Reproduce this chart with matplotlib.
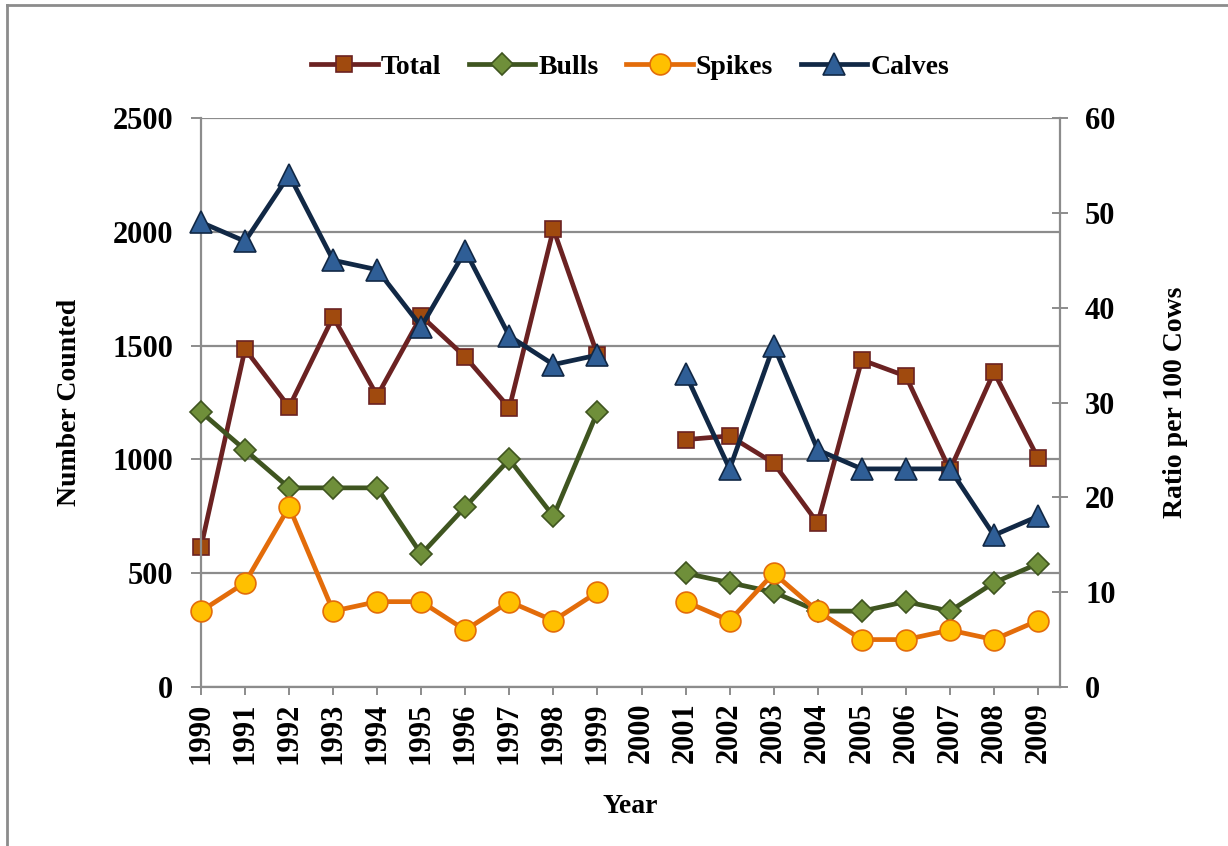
import numpy as np
import matplotlib

matplotlib.use("Agg")
import matplotlib.pyplot as plt
from matplotlib.lines import Line2D

years = ["1990", "1991", "1992", "1993", "1994", "1995", "1996", "1997", "1998", "1999",
         "2000", "2001", "2002", "2003", "2004", "2005", "2006", "2007", "2008", "2009"]
nan = np.nan
total = [615, 1485, 1230, 1626, 1279, 1630, 1450, 1226, 2012, 1459,
         nan, 1087, 1103, 984, 720, 1437, 1366, 953, 1384, 1006]
bulls = [29, 25, 21, 21, 21, 14, 19, 24, 18, 29,
         nan, 12, 11, 10, 8, 8, 9, 8, 11, 13]
spikes = [8, 11, 19, 8, 9, 9, 6, 9, 7, 10,
          nan, 9, 7, 12, 8, 5, 5, 6, 5, 7]
calves = [49, 47, 54, 45, 44, 38, 46, 37, 34, 35,
          nan, 33, 23, 36, 25, 23, 23, 23, 16, 18]

FONT = "Liberation Serif"
GRID = "#8c8c8c"

W, H = 1228, 846
fig = plt.figure(figsize=(W / 100, H / 100), dpi=100)
ax = fig.add_axes([201 / W, (H - 687) / H, (1060 - 201) / W, (687 - 118) / H])
ax2 = ax.twinx()

x = np.arange(len(years))

ax.plot(x, total, color="#6b2222", lw=3.4, marker="s", ms=12, clip_on=False,
        mfc="#a04a0e", mec="#6b2222", mew=1.2, label="Total")
ax2.plot(x, bulls, color="#3f5520", lw=3.4, marker="D", ms=11, clip_on=False,
         mfc="#6f8f3a", mec="#3f5520", mew=1.2, label="Bulls")
ax2.plot(x, spikes, color="#e36c0a", lw=3.4, marker="o", ms=15, clip_on=False,
         mfc="#ffc000", mec="#e36c0a", mew=1.2, label="Spikes")
ax2.plot(x, calves, color="#112845", lw=3.4, marker="^", ms=16, clip_on=False,
         mfc="#2f5e96", mec="#112845", mew=1.2, label="Calves")

xmax = 19.5
ax.set_xlim(0, xmax)
ax.set_ylim(0, 2500)
ax2.set_ylim(0, 60)
ax.set_yticks(np.arange(0, 2501, 500))
ax2.set_yticks(np.arange(0, 61, 10))
ax.set_xticks(x)
ax.set_xticklabels(years, rotation=90, fontsize=22, fontweight="bold", family=FONT)

ax.grid(axis="y", color=GRID, lw=1.6)
ax.set_axisbelow(True)

for a in (ax, ax2):
    for s in a.spines.values():
        s.set_visible(False)
ax.spines["left"].set_visible(True)
ax.spines["bottom"].set_visible(True)
ax2.spines["right"].set_visible(True)
for s in (ax.spines["left"], ax.spines["bottom"], ax2.spines["right"]):
    s.set_color(GRID)
    s.set_linewidth(1.6)

ax.tick_params(axis="y", direction="out", length=7, width=1.4, color=GRID, pad=13)
ax.tick_params(axis="x", direction="out", length=6, width=1.4, color=GRID, pad=5)
ax2.tick_params(axis="y", direction="inout", length=12, width=1.4, color=GRID, pad=12)
for lab in ax.get_yticklabels() + ax2.get_yticklabels():
    lab.set_fontsize(22)
    lab.set_fontweight("bold")
    lab.set_family(FONT)

ax.set_xlabel("Year", fontsize=20, fontweight="bold", family=FONT, labelpad=22)
ax.set_ylabel("Number Counted", fontsize=20, fontweight="bold", family=FONT, labelpad=22)
ax2.set_ylabel("Ratio per 100 Cows", fontsize=20, fontweight="bold", family=FONT, labelpad=34)

h1, l1 = ax.get_legend_handles_labels()
h2, l2 = ax2.get_legend_handles_labels()
fig.legend(h1 + h2, l1 + l2, loc="center", bbox_to_anchor=(630 / W, 1 - 67 / H),
           ncol=4, frameon=False, handlelength=2.4, handletextpad=0.1, columnspacing=1.0,
           prop={"family": FONT, "weight": "bold", "size": 20})

# outer chart border (only left and top edges visible)
fig.add_artist(Line2D([7 / W, 7 / W], [0, 1 - 5 / H], color="#8c8c8c", lw=2,
                      transform=fig.transFigure))
fig.add_artist(Line2D([7 / W, 1], [1 - 5 / H, 1 - 5 / H], color="#8c8c8c", lw=2,
                      transform=fig.transFigure))

fig.savefig("out.png", dpi=100)
plt.close(fig)
